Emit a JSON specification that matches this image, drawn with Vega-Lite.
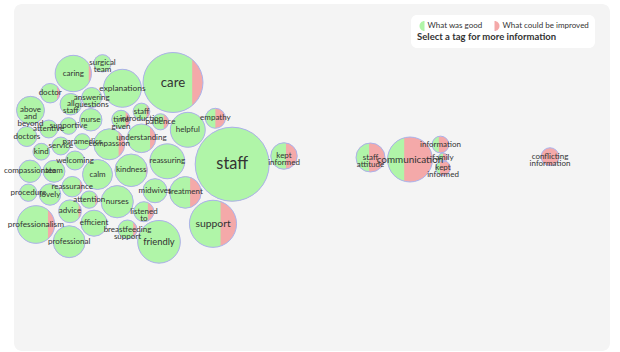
{
  "$schema": "https://vega.github.io/schema/vega-lite/v6.json",
  "width": 596,
  "height": 347,
  "autosize": {"type": "none"},
  "padding": {"left": 14, "top": 4, "right": 10, "bottom": 1},
  "background": "white",
  "config": {"view": {"fill": "#f4f4f4", "stroke": null, "cornerRadius": 8}},
  "data": {"values": [
    {"tag": "surgical team", "x": 102.5, "y": 63.3, "count": 15, "good": 100},
    {"tag": "caring", "x": 73.3, "y": 73.5, "count": 66, "good": 97},
    {"tag": "care", "x": 173, "y": 82.5, "count": 180, "good": 88},
    {"tag": "explanations", "x": 122.4, "y": 88.3, "count": 72, "good": 100},
    {"tag": "doctor", "x": 50.2, "y": 93.2, "count": 19, "good": 91},
    {"tag": "answering questions", "x": 91.7, "y": 97.5, "count": 20, "good": 100},
    {"tag": "all staff", "x": 70.8, "y": 104.2, "count": 23, "good": 100},
    {"tag": "above and beyond", "x": 30.5, "y": 110.3, "count": 39, "good": 100},
    {"tag": "staff introduction", "x": 141.5, "y": 111.5, "count": 14, "good": 86},
    {"tag": "time given", "x": 121, "y": 119.5, "count": 17, "good": 80},
    {"tag": "patience", "x": 160.5, "y": 121.8, "count": 13, "good": 75},
    {"tag": "empathy", "x": 215.4, "y": 118.3, "count": 20, "good": 50},
    {"tag": "nurse", "x": 90.8, "y": 119.8, "count": 25, "good": 100},
    {"tag": "helpful", "x": 187.8, "y": 129.8, "count": 61, "good": 100},
    {"tag": "attentive", "x": 48.7, "y": 129, "count": 16, "good": 100},
    {"tag": "supportive", "x": 68.6, "y": 126, "count": 14, "good": 100},
    {"tag": "doctors", "x": 26.8, "y": 136.5, "count": 20, "good": 100},
    {"tag": "understanding", "x": 141.5, "y": 138.3, "count": 41, "good": 86},
    {"tag": "compassion", "x": 109.3, "y": 144.3, "count": 48, "good": 86},
    {"tag": "paramedics", "x": 82.3, "y": 141.7, "count": 13, "good": 100},
    {"tag": "service", "x": 60.8, "y": 146, "count": 16, "good": 100},
    {"tag": "kind", "x": 41.3, "y": 151.7, "count": 14, "good": 100},
    {"tag": "staff", "x": 232.2, "y": 164.2, "count": 274, "good": 100},
    {"tag": "kept informed", "x": 284, "y": 156, "count": 35, "good": 60},
    {"tag": "welcoming", "x": 75, "y": 160.5, "count": 18, "good": 100},
    {"tag": "reassuring", "x": 167.3, "y": 161.3, "count": 61, "good": 100},
    {"tag": "kindness", "x": 131.2, "y": 170.3, "count": 53, "good": 98},
    {"tag": "calm", "x": 97.5, "y": 174.5, "count": 45, "good": 100},
    {"tag": "compassionate", "x": 30, "y": 171.3, "count": 25, "good": 100},
    {"tag": "team", "x": 54, "y": 171.3, "count": 24, "good": 100},
    {"tag": "reassurance", "x": 72.2, "y": 186.7, "count": 21, "good": 93},
    {"tag": "midwives", "x": 155, "y": 190.7, "count": 29, "good": 100},
    {"tag": "treatment", "x": 185.4, "y": 192.4, "count": 50, "good": 69},
    {"tag": "procedure", "x": 28.3, "y": 192.7, "count": 15, "good": 100},
    {"tag": "lovely", "x": 50, "y": 194.5, "count": 23, "good": 100},
    {"tag": "attention", "x": 89.2, "y": 199.6, "count": 15, "good": 91},
    {"tag": "nurses", "x": 117.2, "y": 201.7, "count": 52, "good": 100},
    {"tag": "listened to", "x": 143.9, "y": 211.7, "count": 20, "good": 75},
    {"tag": "advice", "x": 70, "y": 211.3, "count": 26, "good": 93},
    {"tag": "professionalism", "x": 35.9, "y": 224.5, "count": 71, "good": 88},
    {"tag": "efficient", "x": 94, "y": 223.2, "count": 34, "good": 100},
    {"tag": "breastfeeding support", "x": 127.5, "y": 229.5, "count": 18, "good": 86},
    {"tag": "support", "x": 213, "y": 223.8, "count": 111, "good": 70},
    {"tag": "professional", "x": 69.2, "y": 241.7, "count": 51, "good": 100},
    {"tag": "friendly", "x": 159, "y": 241.8, "count": 91, "good": 100},
    {"tag": "staff attitude", "x": 370.5, "y": 157.5, "count": 42, "good": 44},
    {"tag": "communication", "x": 410, "y": 159.5, "count": 101, "good": 34},
    {"tag": "information", "x": 440.5, "y": 144.5, "count": 14, "good": 37},
    {"tag": "family", "x": 443, "y": 157.5, "count": 4, "good": 50},
    {"tag": "kept informed", "x": 443, "y": 168, "count": 11, "good": 25},
    {"tag": "conflicting information", "x": 550, "y": 156.7, "count": 16, "good": 0}
  ]},
  "encoding": {
    "x": {"field": "x", "type": "quantitative", "scale": {"domain": [14, 610], "nice": false, "zero": false}, "axis": null},
    "y": {"field": "y", "type": "quantitative", "scale": {"domain": [4, 351], "nice": false, "zero": false, "reverse": true}, "axis": null}
  },
  "layer": [
    {
      "data": {"values": [{"band": "footer"}]},
      "mark": {"type": "rect", "color": "#ebebeb", "cornerRadiusBottomLeft": 8, "cornerRadiusBottomRight": 8},
      "encoding": {
        "x": {"datum": 14, "type": "quantitative"},
        "x2": {"datum": 610},
        "y": {"datum": 312, "type": "quantitative"},
        "y2": {"datum": 351}
      }
    },
    {
      "mark": {"type": "point", "shape": "circle", "filled": true, "opacity": 1, "color": "#f4a9a9", "strokeWidth": 0},
      "encoding": {
        "size": {"field": "count", "type": "quantitative", "scale": {"type": "linear", "domain": [0, 300], "range": [0, 6000], "zero": true}, "legend": null}
      }
    },
    {
      "transform": [{"filter": "datum.good > 0"}],
      "mark": {"type": "point", "filled": true, "opacity": 1, "color": "#b0f5a8", "strokeWidth": 0},
      "encoding": {
        "size": {"field": "count", "type": "quantitative", "scale": {"type": "linear", "domain": [0, 300], "range": [0, 6000], "zero": true}, "legend": null},
        "shape": {"field": "good", "type": "nominal", "legend": null, "scale": {
          "domain": [100, 98, 97, 93, 91, 88, 86, 80, 75, 70, 69, 60, 50, 44, 37, 34, 25],
          "range": [
            "circle",
            "M0.9,-0.436A1,1,0,1,0,0.9,0.436Z",
            "M0.85,-0.527A1,1,0,1,0,0.85,0.527Z",
            "M0.75,-0.661A1,1,0,1,0,0.75,0.661Z",
            "M0.7,-0.714A1,1,0,1,0,0.7,0.714Z",
            "M0.64,-0.768A1,1,0,1,0,0.64,0.768Z",
            "M0.6,-0.8A1,1,0,1,0,0.6,0.8Z",
            "M0.5,-0.866A1,1,0,1,0,0.5,0.866Z",
            "M0.4,-0.917A1,1,0,1,0,0.4,0.917Z",
            "M0.32,-0.947A1,1,0,1,0,0.32,0.947Z",
            "M0.3,-0.954A1,1,0,1,0,0.3,0.954Z",
            "M0.15,-0.989A1,1,0,1,0,0.15,0.989Z",
            "M0,-1A1,1,0,0,0,0,1Z",
            "M-0.1,-0.995A1,1,0,0,0,-0.1,0.995Z",
            "M-0.2,-0.98A1,1,0,0,0,-0.2,0.98Z",
            "M-0.26,-0.966A1,1,0,0,0,-0.26,0.966Z",
            "M-0.4,-0.917A1,1,0,0,0,-0.4,0.917Z"
          ]}}
      }
    },
    {
      "mark": {"type": "point", "shape": "circle", "filled": false, "opacity": 1, "color": "#aab2ec", "strokeWidth": 1},
      "encoding": {
        "size": {"field": "count", "type": "quantitative", "scale": {"type": "linear", "domain": [0, 300], "range": [0, 6000], "zero": true}, "legend": null}
      }
    },
    {
      "mark": {"type": "text", "font": "Lato", "color": "#333333", "align": "center", "baseline": "middle", "lineBreak": " ", "lineHeight": 7},
      "encoding": {
        "text": {"field": "tag", "type": "nominal"},
        "size": {"field": "count", "type": "quantitative", "scale": {"type": "sqrt", "domain": [66, 274], "range": [8, 16.3], "clamp": true, "zero": false}, "legend": null}
      }
    },
    {
      "data": {"values": [{"kind": "What was good"}, {"kind": "What could be improved"}]},
      "transform": [{"filter": "false"}],
      "mark": {"type": "point", "filled": true, "opacity": 1},
      "encoding": {
        "x": {"datum": 14, "type": "quantitative"},
        "y": {"datum": 4, "type": "quantitative"},
        "color": {"field": "kind", "type": "nominal",
          "scale": {"domain": ["What was good", "What could be improved"], "range": ["#b0f5a8", "#f4a9a9"]},
          "legend": {
            "orient": "none", "legendX": 397, "legendY": 11, "direction": "horizontal",
            "title": "Select a tag for more information", "titleOrient": "bottom", "titleAnchor": "start",
            "titleFont": "Lato", "titleFontSize": 9.5, "titleFontWeight": "bold", "titleColor": "#333333", "titlePadding": 1,
            "labelFont": "Lato", "labelFontSize": 8, "labelColor": "#333333", "labelOffset": 0.5,
            "symbolSize": 100, "symbolStrokeWidth": 0, "fillColor": "white", "cornerRadius": 6, "padding": 6, "columnPadding": 9,
            "symbolType": {"expr": "datum.value === 'What was good' ? 'M0.5,-1A1,1,0,0,0,0.5,1Z' : 'M-0.5,-1A1,1,0,0,1,-0.5,1Z'"}
          }
        }
      }
    }
  ],
  "resolve": {"scale": {"size": "independent"}}
}
